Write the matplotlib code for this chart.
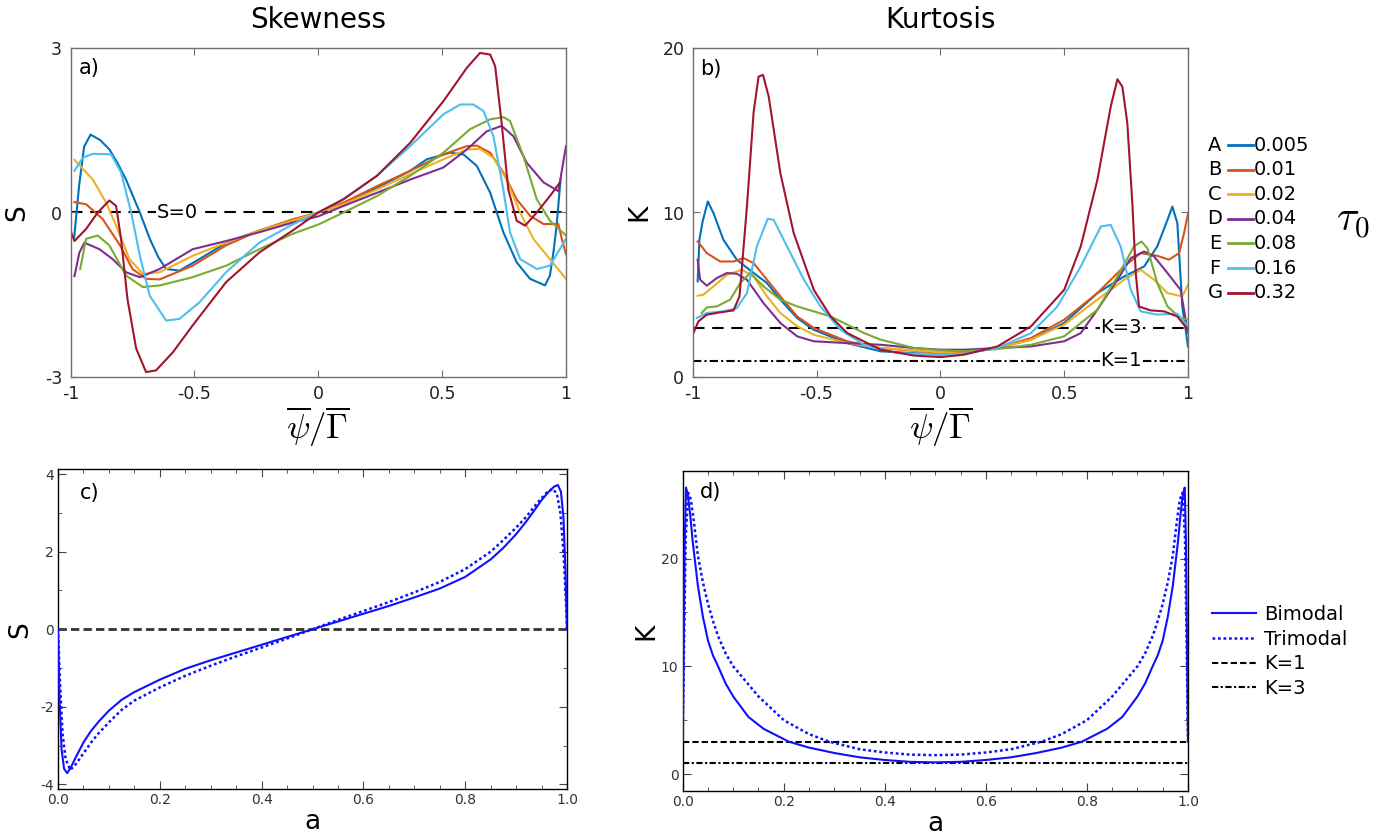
import matplotlib
matplotlib.use("Agg")
import matplotlib.pyplot as plt
from matplotlib.ticker import MultipleLocator

plt.rcParams['font.family'] = 'DejaVu Sans'

# ---------------- data ----------------
tau_letters = ['A', 'B', 'C', 'D', 'E', 'F', 'G']
tau_values = ['0.005', '0.01', '0.02', '0.04', '0.08', '0.16', '0.32']
tau_colors = ['#0072BD', '#D95319', '#EDB120', '#7E2F8E', '#77AC30', '#4DBEEE', '#A2142F']

# a) skewness vs psi/Gamma
skew_A_x = [-0.985, -0.965, -0.945, -0.919, -0.88, -0.843, -0.81, -0.776, -0.748, -0.72, -0.68, -0.645, -0.614, -0.56, -0.48, -0.37, -0.24, -0.1, 0.0, 0.1, 0.237, 0.371, 0.438, 0.532, 0.586, 0.64, 0.694, 0.747, 0.801, 0.855, 0.915, 0.935, 0.95, 0.962, 0.978]
skew_A_y = [-0.45, 0.5, 1.2, 1.42, 1.32, 1.15, 0.9, 0.6, 0.3, 0.0, -0.48, -0.82, -1.03, -1.06, -0.85, -0.55, -0.33, -0.14, 0.0, 0.15, 0.45, 0.76, 0.97, 1.09, 1.06, 0.85, 0.36, -0.36, -0.91, -1.21, -1.33, -1.15, -0.7, -0.24, 0.6]
skew_B_x = [-0.984, -0.937, -0.87, -0.80, -0.75, -0.695, -0.64, -0.507, -0.372, -0.238, -0.1, 0.0, 0.102, 0.237, 0.371, 0.505, 0.6, 0.64, 0.694, 0.747, 0.801, 0.855, 0.909, 0.969, 0.983, 1.0]
skew_B_y = [0.19, 0.15, -0.12, -0.6, -1.03, -1.21, -1.22, -0.97, -0.6, -0.33, -0.12, 0.0, 0.18, 0.48, 0.76, 1.06, 1.21, 1.22, 1.09, 0.73, 0.24, -0.06, -0.21, -0.21, -0.48, -0.76]
skew_C_x = [-0.984, -0.91, -0.856, -0.816, -0.762, -0.708, -0.64, -0.507, -0.372, -0.238, -0.104, 0.0, 0.102, 0.237, 0.371, 0.505, 0.6, 0.653, 0.707, 0.76, 0.815, 0.868, 0.935, 1.0]
skew_C_y = [0.96, 0.6, 0.18, -0.24, -0.85, -1.12, -1.09, -0.79, -0.55, -0.33, -0.15, 0.0, 0.15, 0.42, 0.7, 0.97, 1.15, 1.16, 1.0, 0.6, 0.0, -0.48, -0.85, -1.21]
skew_D_x = [-0.984, -0.964, -0.944, -0.883, -0.83, -0.776, -0.72, -0.64, -0.507, -0.372, -0.238, -0.1, 0.0, 0.102, 0.237, 0.371, 0.505, 0.6, 0.68, 0.74, 0.788, 0.841, 0.909, 0.969, 1.0]
skew_D_y = [-1.16, -0.73, -0.55, -0.67, -0.85, -1.09, -1.18, -1.03, -0.67, -0.52, -0.36, -0.18, -0.07, 0.12, 0.36, 0.6, 0.82, 1.15, 1.48, 1.58, 1.39, 0.91, 0.55, 0.39, 1.21]
skew_E_x = [-0.961, -0.937, -0.89, -0.843, -0.776, -0.708, -0.64, -0.507, -0.372, -0.238, -0.104, 0.0, 0.102, 0.237, 0.371, 0.505, 0.613, 0.694, 0.747, 0.774, 0.828, 0.882, 0.935, 1.0]
skew_E_y = [-1.03, -0.48, -0.42, -0.6, -1.15, -1.36, -1.33, -1.18, -0.97, -0.67, -0.39, -0.22, 0.0, 0.3, 0.67, 1.09, 1.52, 1.7, 1.74, 1.67, 1.03, 0.24, -0.15, -0.42]
skew_F_x = [-0.984, -0.95, -0.91, -0.836, -0.796, -0.755, -0.72, -0.68, -0.614, -0.56, -0.48, -0.372, -0.238, -0.1, 0.0, 0.102, 0.237, 0.371, 0.505, 0.573, 0.626, 0.667, 0.707, 0.747, 0.774, 0.815, 0.882, 0.935, 1.0]
skew_F_y = [0.76, 1.0, 1.07, 1.06, 0.73, 0.0, -0.79, -1.52, -1.97, -1.94, -1.64, -1.09, -0.55, -0.21, 0.0, 0.25, 0.67, 1.21, 1.79, 1.97, 1.97, 1.85, 1.39, 0.42, -0.36, -0.85, -1.03, -0.97, -0.48]
skew_G_x = [-1.0, -0.984, -0.937, -0.89, -0.843, -0.816, -0.796, -0.77, -0.735, -0.695, -0.655, -0.587, -0.507, -0.372, -0.238, -0.104, 0.0, 0.102, 0.237, 0.371, 0.505, 0.6, 0.653, 0.694, 0.714, 0.74, 0.767, 0.801, 0.835, 0.882, 0.935, 0.976]
skew_G_y = [-0.33, -0.52, -0.3, 0.0, 0.22, 0.12, -0.48, -1.58, -2.48, -2.91, -2.88, -2.55, -2.06, -1.27, -0.73, -0.33, 0.0, 0.24, 0.67, 1.27, 2.03, 2.64, 2.91, 2.88, 2.67, 1.64, 0.42, -0.15, -0.24, 0.0, 0.3, 0.55]

# b) kurtosis vs psi/Gamma
kurt_A_x = [-0.98, -0.973, -0.96, -0.939, -0.916, -0.876, -0.822, -0.754, -0.7, -0.646, -0.578, -0.511, -0.376, -0.241, 0.003, 0.097, 0.231, 0.366, 0.5, 0.634, 0.742, 0.823, 0.876, 0.917, 0.937, 0.957, 0.977, 1.0]
kurt_A_y = [5.81, 8.34, 9.45, 10.67, 9.96, 8.34, 7.13, 6.32, 5.71, 4.7, 3.58, 2.87, 2.06, 1.56, 1.36, 1.46, 1.76, 2.27, 3.28, 5.1, 6.11, 6.72, 7.94, 9.55, 10.36, 9.35, 4.29, 1.86]
kurt_B_x = [-0.98, -0.943, -0.889, -0.835, -0.795, -0.754, -0.7, -0.646, -0.578, -0.511, -0.376, -0.241, 0.003, 0.097, 0.231, 0.366, 0.5, 0.634, 0.742, 0.809, 0.876, 0.923, 0.964, 0.984, 1.0]
kurt_B_y = [8.24, 7.53, 7.02, 7.02, 7.23, 6.92, 5.91, 4.9, 3.68, 2.98, 2.17, 1.76, 1.46, 1.46, 1.76, 2.37, 3.48, 5.1, 6.72, 7.53, 7.37, 7.13, 7.53, 8.74, 9.92]
kurt_C_x = [-0.98, -0.957, -0.916, -0.862, -0.801, -0.754, -0.7, -0.646, -0.578, -0.511, -0.376, -0.241, 0.003, 0.097, 0.231, 0.366, 0.5, 0.634, 0.742, 0.809, 0.863, 0.917, 0.977, 1.0]
kurt_C_y = [4.94, 5.0, 5.51, 6.21, 6.52, 6.11, 4.9, 3.89, 3.08, 2.57, 2.06, 1.76, 1.5, 1.56, 1.76, 2.27, 3.18, 4.7, 5.91, 6.52, 5.91, 5.1, 4.9, 5.61]
kurt_D_x = [-0.98, -0.97, -0.943, -0.903, -0.862, -0.822, -0.781, -0.714, -0.646, -0.578, -0.511, -0.376, -0.241, -0.105, 0.003, 0.097, 0.231, 0.366, 0.5, 0.567, 0.634, 0.715, 0.769, 0.823, 0.863, 0.917, 0.97, 1.0]
kurt_D_y = [7.13, 5.91, 5.55, 6.01, 6.32, 6.28, 5.91, 4.49, 3.28, 2.47, 2.17, 2.06, 1.96, 1.76, 1.66, 1.66, 1.76, 1.86, 2.17, 2.67, 4.09, 5.91, 7.23, 7.63, 7.33, 6.32, 5.3, 2.67]
kurt_E_x = [-0.964, -0.943, -0.903, -0.849, -0.808, -0.768, -0.714, -0.646, -0.578, -0.511, -0.443, -0.376, -0.308, -0.241, -0.105, 0.003, 0.097, 0.231, 0.366, 0.5, 0.634, 0.715, 0.782, 0.812, 0.836, 0.876, 0.917, 0.97, 1.0]
kurt_E_y = [3.89, 4.23, 4.29, 4.7, 5.71, 6.32, 5.51, 4.7, 4.29, 3.99, 3.68, 3.18, 2.67, 2.27, 1.76, 1.62, 1.56, 1.7, 1.96, 2.47, 4.09, 6.11, 7.94, 8.24, 7.83, 5.71, 4.29, 3.58, 3.48]
kurt_F_x = [-0.984, -0.943, -0.876, -0.822, -0.781, -0.741, -0.697, -0.673, -0.619, -0.551, -0.484, -0.403, -0.308, -0.173, 0.003, 0.097, 0.231, 0.366, 0.473, 0.567, 0.648, 0.688, 0.728, 0.769, 0.809, 0.876, 0.957, 1.0]
kurt_F_y = [3.58, 3.89, 3.99, 4.19, 5.1, 7.94, 9.62, 9.55, 7.94, 5.91, 4.29, 2.87, 1.96, 1.46, 1.36, 1.42, 1.76, 2.67, 4.29, 6.72, 9.15, 9.25, 7.94, 5.3, 3.99, 3.79, 3.85, 3.08]
kurt_G_x = [-1.0, -0.977, -0.943, -0.889, -0.835, -0.811, -0.781, -0.754, -0.734, -0.716, -0.693, -0.646, -0.592, -0.511, -0.443, -0.376, -0.241, -0.105, 0.003, 0.097, 0.231, 0.366, 0.5, 0.567, 0.634, 0.688, 0.715, 0.735, 0.755, 0.776, 0.789, 0.802, 0.849, 0.903, 0.957, 1.0]
kurt_G_y = [2.57, 3.38, 3.79, 3.93, 4.05, 4.9, 10.36, 16.1, 18.26, 18.36, 17.04, 12.39, 8.74, 5.3, 3.68, 2.67, 1.66, 1.3, 1.21, 1.36, 1.86, 3.08, 5.3, 7.94, 11.98, 16.44, 18.1, 17.65, 15.43, 10.36, 6.32, 4.29, 4.05, 3.99, 3.68, 2.87]

# c) skewness vs a
bi_S_a = [0.0, 0.003, 0.007, 0.012, 0.018, 0.025, 0.035, 0.05, 0.065, 0.08, 0.1, 0.125, 0.15, 0.2, 0.25, 0.3, 0.35, 0.4, 0.45, 0.5,
          0.55, 0.6, 0.65, 0.7, 0.75, 0.8, 0.85, 0.875, 0.9, 0.92, 0.935, 0.95, 0.965, 0.975, 0.982, 0.988, 0.993, 0.997, 1.0]
bi_S = [0.0, -1.8, -3.1, -3.6, -3.71, -3.57, -3.3, -2.92, -2.62, -2.38, -2.1, -1.82, -1.62, -1.3, -1.02, -0.8, -0.6, -0.4, -0.2, 0.0,
        0.2, 0.4, 0.6, 0.82, 1.05, 1.35, 1.8, 2.1, 2.45, 2.78, 3.05, 3.33, 3.56, 3.68, 3.72, 3.55, 2.9, 1.5, 0.0]
tri_S_a = [0.0, 0.004, 0.009, 0.015, 0.024, 0.035, 0.05, 0.065, 0.08, 0.1, 0.125, 0.15, 0.2, 0.25, 0.3, 0.35, 0.4, 0.45, 0.5,
           0.55, 0.6, 0.65, 0.7, 0.75, 0.8, 0.85, 0.875, 0.9, 0.92, 0.935, 0.95, 0.962, 0.972, 0.98, 0.987, 0.993, 0.997, 1.0]
tri_S = [0.0, -1.4, -2.7, -3.35, -3.63, -3.48, -3.2, -2.92, -2.68, -2.4, -2.08, -1.84, -1.5, -1.2, -0.94, -0.7, -0.47, -0.24, 0.0,
         0.24, 0.47, 0.7, 0.95, 1.22, 1.55, 2.0, 2.3, 2.62, 2.9, 3.15, 3.38, 3.55, 3.62, 3.5, 3.0, 2.0, 1.0, 0.0]

# d) kurtosis vs a
bi_K_a = [0.0, 0.002, 0.004, 0.0065, 0.01, 0.015, 0.02, 0.03, 0.04, 0.05, 0.06, 0.07, 0.085, 0.1, 0.13, 0.16, 0.21, 0.25, 0.3, 0.35, 0.4, 0.45, 0.5,
          0.55, 0.6, 0.65, 0.7, 0.75, 0.79, 0.84, 0.87, 0.9, 0.915, 0.93, 0.94, 0.95, 0.96, 0.97, 0.98, 0.985, 0.99, 0.9935, 0.996, 0.998, 1.0]
bi_K = [3.0, 12.0, 21.5, 26.6, 26.0, 24.0, 21.5, 17.5, 14.6, 12.4, 11.0, 10.0, 8.4, 7.2, 5.3, 4.2, 3.0, 2.45, 1.95, 1.55, 1.3, 1.13, 1.08,
        1.13, 1.3, 1.55, 1.95, 2.45, 3.0, 4.2, 5.3, 7.2, 8.4, 10.0, 11.0, 12.4, 14.6, 17.5, 21.5, 24.0, 26.0, 26.6, 21.5, 12.0, 3.0]
tri_K_a = [0.0, 0.003, 0.006, 0.011, 0.016, 0.022, 0.03, 0.04, 0.05, 0.06, 0.07, 0.085, 0.1, 0.125, 0.15, 0.2, 0.25, 0.29, 0.35, 0.4, 0.45, 0.5,
           0.55, 0.6, 0.65, 0.71, 0.75, 0.8, 0.85, 0.875, 0.9, 0.915, 0.93, 0.94, 0.95, 0.96, 0.97, 0.978, 0.984, 0.989, 0.994, 0.997, 1.0]
tri_K = [3.0, 13.0, 22.0, 26.1, 25.5, 23.5, 20.3, 17.8, 15.8, 14.2, 12.8, 11.2, 10.0, 8.6, 7.2, 5.0, 3.7, 3.0, 2.3, 2.0, 1.8, 1.75,
         1.8, 2.0, 2.3, 3.0, 3.7, 5.0, 7.2, 8.6, 10.0, 11.2, 12.8, 14.2, 15.8, 17.8, 20.3, 23.5, 25.5, 26.1, 22.0, 13.0, 3.0]

a_ticks = [0.0, 0.2, 0.4, 0.6, 0.8, 1.0]
a_ticklabels = ['0.0', '0.2', '0.4', '0.6', '0.8', '1.0']

skew_x = [skew_A_x, skew_B_x, skew_C_x, skew_D_x, skew_E_x, skew_F_x, skew_G_x]
skew_y = [skew_A_y, skew_B_y, skew_C_y, skew_D_y, skew_E_y, skew_F_y, skew_G_y]
kurt_x = [kurt_A_x, kurt_B_x, kurt_C_x, kurt_D_x, kurt_E_x, kurt_F_x, kurt_G_x]
kurt_y = [kurt_A_y, kurt_B_y, kurt_C_y, kurt_D_y, kurt_E_y, kurt_F_y, kurt_G_y]

W, H = 1392, 838
fig = plt.figure(figsize=(W / 100, H / 100), dpi=100)


def px_axes(l, t, r, b):
    # axes placed from pixel edges of the reference
    return fig.add_axes([l / W, 1 - b / H, (r - l) / W, (b - t) / H])


def matlab_look(ax):
    for sp in ax.spines.values():
        sp.set_color('#707070')
        sp.set_linewidth(1.0)
    ax.tick_params(direction='in', length=5, width=0.8, color='#707070',
                   top=True, right=True, labelsize=12.5, pad=6, labelcolor='#222222')


def mma_look(ax):
    for sp in ax.spines.values():
        sp.set_color('black')
        sp.set_linewidth(1.0)
    ax.tick_params(which='both', direction='in', top=True, right=True, color='#444444')
    ax.tick_params(which='major', length=6, width=0.8, pad=3, labelsize=10, labelcolor='#333333')
    ax.tick_params(which='minor', length=3, width=0.6)
    for lab in ax.get_xticklabels() + ax.get_yticklabels():
        lab.set_family(['Liberation Sans Narrow', 'DejaVu Sans'])


xlab = r'$\overline{\psi}/\overline{\Gamma}$'

# ---------------- a) Skewness ----------------
ax_a = px_axes(70.5, 48, 566, 377)
ax_a.axhline(0, color='black', lw=1.5, ls=(0, (5.5, 3.7)), zorder=1)
for xs, ys, c in zip(skew_x, skew_y, tau_colors):
    ax_a.plot(xs, ys, color=c, lw=1.5, zorder=2)
ax_a.text(-0.57, 0, 'S=0', ha='center', va='center', fontsize=14, zorder=5,
          bbox=dict(facecolor='white', edgecolor='none', pad=0.5))
ax_a.set_xlim(-1, 1)
ax_a.set_ylim(-3, 3)
ax_a.set_xticks([-1, -0.5, 0, 0.5, 1])
ax_a.set_xticklabels(['-1', '-0.5', '0', '0.5', '1'])
ax_a.set_yticks([-3, 0, 3])
ax_a.set_yticklabels(['-3', '0', '3'])
matlab_look(ax_a)
ax_a.text(0.5, 1.085, 'Skewness', transform=ax_a.transAxes, ha='center', va='center', fontsize=20)
ax_a.text(0.017, 0.939, 'a)', transform=ax_a.transAxes, ha='left', va='center', fontsize=15)
ax_a.text(-0.107, 0.5, 'S', transform=ax_a.transAxes, rotation=90, ha='center', va='center', fontsize=19)
ax_a.text(0.5, -0.152, xlab, transform=ax_a.transAxes, ha='center', va='center', fontsize=25,
          math_fontfamily='cm')

# ---------------- b) Kurtosis ----------------
ax_b = px_axes(692.7, 48, 1188, 377)
ax_b.axhline(3, color='black', lw=1.5, ls=(0, (5.5, 3.7)), zorder=1)
ax_b.axhline(1, color='black', lw=1.5, ls=(0, (4, 1.5, 1, 1.5)), zorder=1)
for xs, ys, c in zip(kurt_x, kurt_y, tau_colors):
    ax_b.plot(xs, ys, color=c, lw=1.5, zorder=2)
for yv, t in [(3, 'K=3'), (1, 'K=1')]:
    ax_b.text(0.73, yv, t, ha='center', va='center', fontsize=14, zorder=5,
              bbox=dict(facecolor='white', edgecolor='none', pad=0.5))
ax_b.set_xlim(-1, 1)
ax_b.set_ylim(0, 20)
ax_b.set_xticks([-1, -0.5, 0, 0.5, 1])
ax_b.set_xticklabels(['-1', '-0.5', '0', '0.5', '1'])
ax_b.set_yticks([0, 10, 20])
matlab_look(ax_b)
ax_b.text(0.5, 1.085, 'Kurtosis', transform=ax_b.transAxes, ha='center', va='center', fontsize=20)
ax_b.text(0.015, 0.937, 'b)', transform=ax_b.transAxes, ha='left', va='center', fontsize=15)
ax_b.text(-0.107, 0.5, 'K', transform=ax_b.transAxes, rotation=90, ha='center', va='center', fontsize=19)
ax_b.text(0.5, -0.152, xlab, transform=ax_b.transAxes, ha='center', va='center', fontsize=25,
          math_fontfamily='cm')

# legend of tau_0 values: letter, line, value
for i, (let, val, c) in enumerate(zip(tau_letters, tau_values, tau_colors)):
    yy = 0.705 - i * 0.0748
    ax_b.text(1.0545, yy, let, transform=ax_b.transAxes, ha='center', va='center', fontsize=14)
    ax_b.plot([1.081, 1.131], [yy, yy], transform=ax_b.transAxes, color=c, lw=2, clip_on=False)
    ax_b.text(1.133, yy, val, transform=ax_b.transAxes, ha='left', va='center', fontsize=14)
fig.text(1353 / W, 1 - 220 / H, r'$\tau_0$', ha='center', va='center', fontsize=30, math_fontfamily='cm')

# ---------------- c) S vs a ----------------
ax_c = px_axes(58, 469.5, 567, 789)
ax_c.axhline(0, color='#333333', lw=2, ls=(0, (3, 1.5)), zorder=1)
ax_c.plot(bi_S_a, bi_S, color='#1010ff', lw=1.5, zorder=3)
ax_c.plot(tri_S_a, tri_S, color='#1010ff', lw=1.8, ls=(0, (1.1, 1.1)), zorder=3)
ax_c.set_xlim(0, 1)
ax_c.set_ylim(-4.12, 4.12)
ax_c.set_xticks(a_ticks)
ax_c.set_xticklabels(a_ticklabels)
ax_c.xaxis.set_minor_locator(MultipleLocator(0.05))
ax_c.set_yticks([-4, -2, 0, 2, 4])
ax_c.set_yticklabels(['-4', '-2', '0', '2', '4'])
ax_c.yaxis.set_minor_locator(MultipleLocator(1))
mma_look(ax_c)
ax_c.text(0.043, 0.925, 'c)', transform=ax_c.transAxes, ha='left', va='center', fontsize=15)
ax_c.text(-0.074, 0.5, 'S', transform=ax_c.transAxes, rotation=90, ha='center', va='center', fontsize=19)
ax_c.text(0.5, -0.103, 'a', transform=ax_c.transAxes, ha='center', va='center', fontsize=19)

# ---------------- d) K vs a ----------------
ax_d = px_axes(682.7, 471.4, 1188, 790.8)
ax_d.plot(bi_K_a, bi_K, color='#1010ff', lw=1.5, zorder=3, label='Bimodal')
ax_d.plot(tri_K_a, tri_K, color='#1010ff', lw=1.8, ls=(0, (1.1, 1.1)), zorder=3, label='Trimodal')
ax_d.axhline(3, color='black', lw=1.5, ls=(0, (3, 1.5)), zorder=1, label='K=1')
ax_d.axhline(1, color='black', lw=1.5, ls=(0, (3, 1.2, 1, 1.2)), zorder=1, label='K=3')
ax_d.set_xlim(0, 1)
ax_d.set_ylim(-1.56, 28.1)
ax_d.set_xticks(a_ticks)
ax_d.set_xticklabels(a_ticklabels)
ax_d.xaxis.set_minor_locator(MultipleLocator(0.05))
ax_d.set_yticks([0, 10, 20])
ax_d.yaxis.set_minor_locator(MultipleLocator(5))
mma_look(ax_d)
ax_d.text(0.034, 0.934, 'd)', transform=ax_d.transAxes, ha='left', va='center', fontsize=15)
ax_d.text(-0.072, 0.5, 'K', transform=ax_d.transAxes, rotation=90, ha='center', va='center', fontsize=19)
ax_d.text(0.5, -0.104, 'a', transform=ax_d.transAxes, ha='center', va='center', fontsize=19)
ax_d.legend(loc='center left', bbox_to_anchor=(1.048, 0.436), frameon=False, fontsize=14,
            handlelength=2.25, handletextpad=0.4, labelspacing=0.3, borderpad=0, borderaxespad=0)

fig.savefig('out.png', dpi=100)
